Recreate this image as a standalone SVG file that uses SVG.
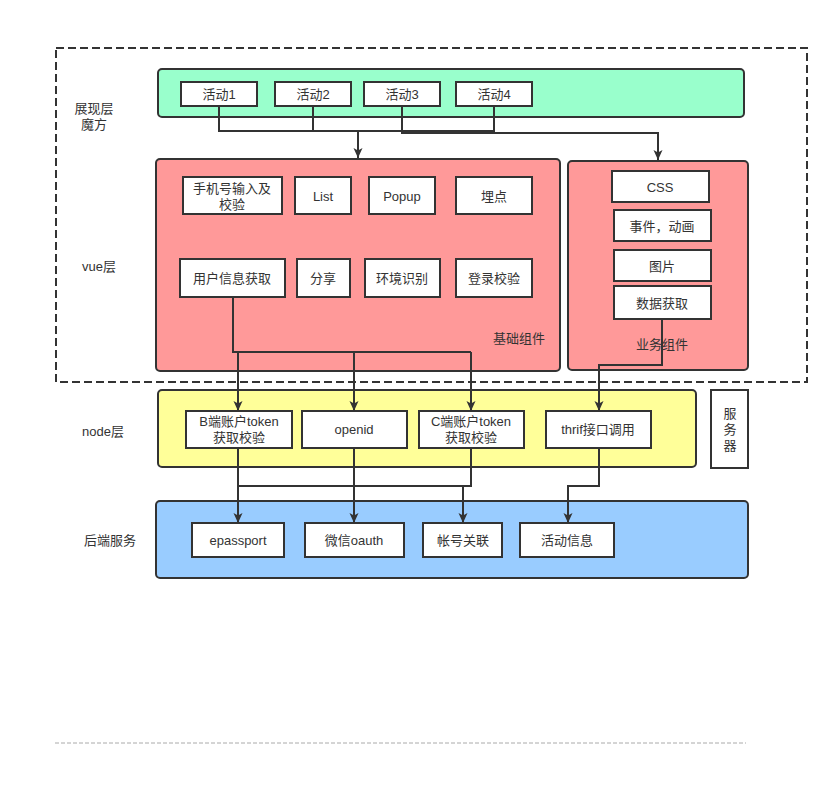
<svg xmlns="http://www.w3.org/2000/svg" width="838" height="785" viewBox="0 0 838 785">
<style>
text{font-family:"Liberation Sans","Noto Sans CJK SC",sans-serif;font-size:13px;fill:#333;text-anchor:middle;dominant-baseline:central}
.c{stroke:#333;stroke-width:2}
.b{fill:#fff;stroke:#333;stroke-width:2}
.ln{fill:none;stroke:#333;stroke-width:2}
</style>
<defs>
<marker id="ar" viewBox="0 0 10 10" refX="10" refY="5" markerWidth="10" markerHeight="10" markerUnits="userSpaceOnUse" orient="auto">
<path d="M0,0.5 L10,5 L0,9.5 L2.5,5 z" fill="#333"/>
</marker>
</defs>
<rect width="838" height="785" fill="#fff"/>
<rect x="56" y="48" width="751" height="334" fill="none" stroke="#333" stroke-width="2" stroke-dasharray="8 4"/>
<line x1="55" y1="743" x2="746" y2="743" stroke="#aaa" stroke-width="1" stroke-dasharray="4 2"/>

<g id="labels">
<text x="94" y="108">展现层</text>
<text x="94" y="124">魔方</text>
<text x="99" y="266">vue层</text>
<text x="103" y="431">node层</text>
<text x="110" y="540">后端服务</text>
</g>

<g id="layer-present">
<rect class="c" x="158" y="69" width="586" height="48" rx="4" fill="#99FFCC"/>
</g>
<g id="act1"><rect class="b" x="181" y="82" width="76" height="24"/><text x="219" y="94">活动1</text></g>
<g id="act2"><rect class="b" x="275" y="82" width="76" height="24"/><text x="313" y="94">活动2</text></g>
<g id="act3"><rect class="b" x="364" y="82" width="76" height="24"/><text x="402" y="94">活动3</text></g>
<g id="act4"><rect class="b" x="456" y="82" width="76" height="24"/><text x="494" y="94">活动4</text></g>

<g id="base">
<rect class="c" x="156" y="159" width="404" height="212" rx="4" fill="#FF9999"/>
<text x="519" y="338">基础组件</text>
</g>
<g id="phone"><rect class="b" x="183" y="177" width="99" height="37"/><text x="232" y="188">手机号输入及</text><text x="232" y="204">校验</text></g>
<g id="list"><rect class="b" x="295" y="177" width="56" height="37"/><text x="323" y="196">List</text></g>
<g id="popup"><rect class="b" x="369" y="177" width="66" height="37"/><text x="402" y="196">Popup</text></g>
<g id="track"><rect class="b" x="456" y="177" width="76" height="37"/><text x="494" y="196">埋点</text></g>
<g id="userinfo"><rect class="b" x="180" y="259" width="105" height="38"/><text x="232" y="278">用户信息获取</text></g>
<g id="share"><rect class="b" x="297" y="259" width="53" height="38"/><text x="323" y="278">分享</text></g>
<g id="env"><rect class="b" x="365" y="259" width="75" height="38"/><text x="402" y="278">环境识别</text></g>
<g id="login"><rect class="b" x="456" y="259" width="76" height="38"/><text x="494" y="278">登录校验</text></g>

<g id="biz">
<rect class="c" x="568" y="161" width="180" height="209" rx="4" fill="#FF9999"/>
<text x="662" y="344">业务组件</text>
</g>
<g id="css"><rect class="b" x="612" y="171" width="97" height="31"/><text x="660" y="187">CSS</text></g>
<g id="event"><rect class="b" x="614" y="210" width="97" height="31"/><text x="662" y="226">事件，动画</text></g>
<g id="pic"><rect class="b" x="614" y="250" width="97" height="31"/><text x="662" y="266">图片</text></g>
<g id="data"><rect class="b" x="614" y="286" width="97" height="33"/><text x="662" y="303">数据获取</text></g>

<g id="node">
<rect class="c" x="158" y="390" width="538" height="77" rx="4" fill="#FFFF99"/>
</g>
<g id="btoken"><rect class="b" x="186" y="411" width="106" height="37"/><text x="239" y="421">B端账户token</text><text x="239" y="437">获取校验</text></g>
<g id="openid"><rect class="b" x="302" y="411" width="105" height="37"/><text x="354" y="429">openid</text></g>
<g id="ctoken"><rect class="b" x="419" y="411" width="105" height="37"/><text x="471" y="421">C端账户token</text><text x="471" y="437">获取校验</text></g>
<g id="thrif"><rect class="b" x="546" y="411" width="105" height="37"/><text x="598" y="429">thrif接口调用</text></g>
<g id="server"><rect class="b" x="711" y="390" width="37" height="78"/><text x="730" y="413">服</text><text x="730" y="429">务</text><text x="730" y="445">器</text></g>

<g id="backend">
<rect class="c" x="156" y="501" width="592" height="77" rx="4" fill="#99CCFF"/>
</g>
<g id="epassport"><rect class="b" x="192" y="523" width="92" height="34"/><text x="238" y="540">epassport</text></g>
<g id="wechat"><rect class="b" x="305" y="523" width="99" height="34"/><text x="354" y="540">微信oauth</text></g>
<g id="account"><rect class="b" x="423" y="523" width="79" height="34"/><text x="463" y="540">帐号关联</text></g>
<g id="actinfo"><rect class="b" x="520" y="523" width="94" height="34"/><text x="567" y="540">活动信息</text></g>

<g id="connectors">
<path class="ln" d="M219,106 V131 H494 M313,106 V131 M494,106 V131"/>
<path class="ln" d="M358,131 V158" marker-end="url(#ar)"/>
<path class="ln" d="M402,106 V133 H658 V160" marker-end="url(#ar)"/>
<path class="ln" d="M494,131 V133"/>
<path class="ln" d="M233,297 V352 H471"/>
<path class="ln" d="M238,352 V411" marker-end="url(#ar)"/>
<path class="ln" d="M354,352 V411" marker-end="url(#ar)"/>
<path class="ln" d="M471,352 V411" marker-end="url(#ar)"/>
<path class="ln" d="M662,319 V365 H599 V411" marker-end="url(#ar)"/>
<path class="ln" d="M238,448 V523" marker-end="url(#ar)"/>
<path class="ln" d="M354,448 V523" marker-end="url(#ar)"/>
<path class="ln" d="M471,448 V486 H238"/>
<path class="ln" d="M463,486 V523" marker-end="url(#ar)"/>
<path class="ln" d="M599,448 V486 H568 V523" marker-end="url(#ar)"/>
</g>
</svg>
